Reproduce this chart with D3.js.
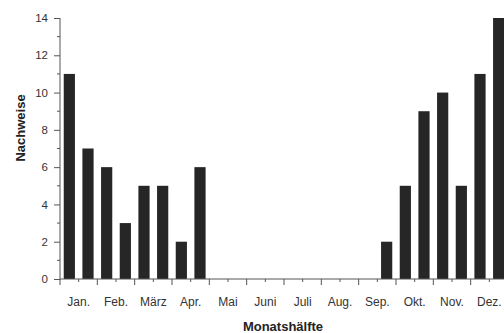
<!DOCTYPE html>
<html>
<head>
<meta charset="utf-8">
<script src="https://cdn.jsdelivr.net/npm/d3@7"></script>
<style>
  html, body { margin: 0; padding: 0; background: #fff; }
  svg { display: block; }
  text { font-family: "Liberation Sans", Arial, sans-serif; }
</style>
</head>
<body>
<svg id="chart" width="504" height="333"></svg>
<script>
// Monthly labels (one per month, each month split into two halves)
const months = ["Jan.", "Feb.", "März", "Apr.", "Mai", "Juni", "Juli", "Aug.", "Sep.", "Okt.", "Nov.", "Dez."];
// Records per half-month: first half, second half for each month
const counts = [11, 7, 6, 3, 5, 5, 2, 6, 0, 0, 0, 0, 0, 0, 0, 0, 0, 2, 5, 9, 10, 5, 11, 14];
const yTicks = [0, 2, 4, 6, 8, 10, 12, 14];

const svg = d3.select("#chart");
const plotLeft = 60, plotRight = 508, plotTop = 18, plotBottom = 279;

const halves = d3.range(counts.length);
const x = d3.scaleBand().domain(halves).range([plotLeft, plotRight]).paddingInner(0.4).paddingOuter(0.2);
const xMonth = d3.scaleBand().domain(months).range([plotLeft, plotRight]);
const y = d3.scaleLinear().domain([0, 14]).range([plotBottom, plotTop]);

const axisColor = "#555";
const textColor = "#333";

// Bars
svg.append("g").selectAll("rect").data(counts).join("rect")
  .attr("x", (d, i) => x(i))
  .attr("width", x.bandwidth())
  .attr("y", d => y(d))
  .attr("height", d => y(0) - y(d))
  .attr("fill", "#262626");

// Y axis: major ticks with labels, minor ticks at odd values
const yAxis = svg.append("g").attr("transform", `translate(${plotLeft},0)`)
  .call(d3.axisLeft(y).tickValues(yTicks).tickSize(6).tickPadding(6).tickFormat(d3.format("d")));
yAxis.append("g").selectAll("line").data(d3.range(1, 14, 2)).join("line")
  .attr("x1", -3).attr("x2", 0)
  .attr("y1", d => y(d)).attr("y2", d => y(d));
yAxis.select(".domain").attr("d", `M0,${y(14)}V${y(0)}`);
yAxis.selectAll("line").attr("stroke", axisColor);
yAxis.select(".domain").attr("stroke", axisColor);
yAxis.selectAll("text").attr("font-size", 11.5).attr("fill", textColor);

// X axis: month boundaries as major ticks, half-month marks as minor ticks
const xAxis = svg.append("g").attr("transform", `translate(0,${plotBottom})`);
xAxis.append("line").attr("x1", plotLeft).attr("x2", plotRight).attr("stroke", axisColor);
xAxis.selectAll(".major").data(months).join("line").attr("class", "major")
  .attr("x1", d => xMonth(d)).attr("x2", d => xMonth(d))
  .attr("y1", 0).attr("y2", 6).attr("stroke", axisColor);
xAxis.selectAll(".minor").data(months).join("line").attr("class", "minor")
  .attr("x1", d => xMonth(d) + xMonth.bandwidth() / 2).attr("x2", d => xMonth(d) + xMonth.bandwidth() / 2)
  .attr("y1", 0).attr("y2", 3).attr("stroke", axisColor);
xAxis.selectAll("text").data(months).join("text")
  .attr("x", d => xMonth(d) + xMonth.bandwidth() / 2)
  .attr("y", 27)
  .attr("text-anchor", "middle")
  .attr("font-size", 12)
  .attr("fill", textColor)
  .text(d => d);

// Axis titles
svg.append("text")
  .attr("x", 283).attr("y", 331)
  .attr("text-anchor", "middle")
  .attr("font-size", 13).attr("font-weight", "bold").attr("fill", "#222")
  .text("Monatshälfte");
svg.append("text")
  .attr("transform", "translate(25,128) rotate(-90)")
  .attr("text-anchor", "middle")
  .attr("font-size", 13).attr("font-weight", "bold").attr("fill", "#222")
  .text("Nachweise");
</script>
</body>
</html>
